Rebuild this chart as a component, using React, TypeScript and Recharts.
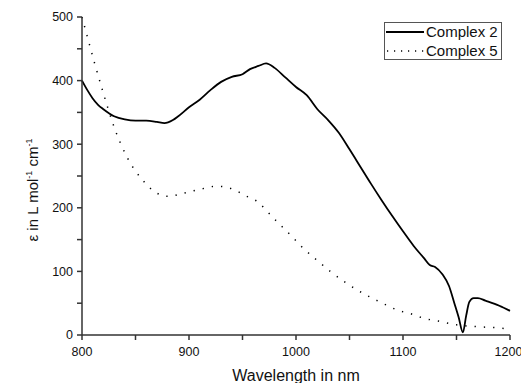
import { LineChart, Line, XAxis, YAxis } from "recharts";

// wavelength (nm) / extinction coefficient pairs
const wl2 = [800, 805, 810, 815, 820, 830, 840, 850, 860, 870, 877, 885, 890, 900, 910, 920, 930, 940, 950, 957, 965, 972, 980, 990, 1000, 1010, 1020, 1030, 1040, 1050, 1060, 1070, 1080, 1090, 1100, 1110, 1120, 1125, 1130, 1137, 1143, 1148, 1152, 1156, 1159, 1162, 1166, 1170, 1177, 1190, 1200];
const eps2 = [400, 385, 372, 362, 355, 344, 339, 337, 337, 335, 333, 338, 344, 358, 370, 385, 398, 406, 410, 418, 423, 427, 420, 405, 390, 377, 355, 338, 318, 292, 265, 238, 212, 187, 163, 140, 120, 110, 107, 95, 77, 50, 28, 4, 30, 52, 58, 58, 54, 46, 38];

const wl5 = [800, 805, 811, 820, 830, 842, 858, 870, 880, 895, 910, 926, 938, 954, 966, 971, 983, 995, 1007, 1020, 1032, 1045, 1057, 1070, 1082, 1095, 1108, 1120, 1133, 1150, 1170, 1190, 1200];
const eps5 = [500, 469, 432, 380, 327, 280, 241, 223, 218, 223, 229, 234, 231, 218, 207, 198, 177, 157, 136, 117, 100, 84, 71, 59, 49, 39, 33, 26, 22, 16, 13, 11, 9];

const xTicks = [800, 850, 900, 950, 1000, 1050, 1100, 1150, 1200];
const yTicks = [0, 50, 100, 150, 200, 250, 300, 350, 400, 450, 500];

const complex2 = wl2.map((w, i) => ({ wl: w, c2: eps2[i] }));
const complex5 = wl5.map((w, i) => ({ wl: w, c5: eps5[i] }));

const FONT = "Liberation Sans, Arial, sans-serif";
const AXIS = "#333";

const YLabel = () => (
  <text
    x={38}
    y={190}
    transform="rotate(-90 38 190)"
    textAnchor="middle"
    fontFamily={FONT}
    fontSize={15}
    fill="#111"
  >
    ε in L mol
    <tspan dy={-6} fontSize={9}>-1</tspan>
    <tspan dy={6}> cm</tspan>
    <tspan dy={-6} fontSize={9}>-1</tspan>
  </text>
);

// legend drawn as an overlay so it doesn't eat into the plot area
const LegendBox = () => (
  <svg width={119} height={39} style={{ position: "absolute", left: 384, top: 22 }}>
    <rect x={0.5} y={0.5} width={117} height={37} fill="#fff" stroke="#555" />
    <line x1={2} x2={40} y1={10} y2={10} stroke="#000" strokeWidth={1.8} />
    <text x={42} y={15} fontFamily={FONT} fontSize={15} fill="#111">Complex 2</text>
    <line x1={3} x2={40} y1={29} y2={29} stroke="#000" strokeWidth={1.5} strokeDasharray="1.2 5.8" />
    <text x={42} y={34} fontFamily={FONT} fontSize={15} fill="#111">Complex 5</text>
  </svg>
);

export default function App() {
  return (
    <div style={{ position: "absolute", left: 0, top: 0, width: 521, height: 383, background: "#fff" }}>
      <LineChart width={521} height={383} margin={{ top: 17, right: 11, bottom: 0, left: 0 }}>
        <XAxis
          dataKey="wl"
          type="number"
          domain={[800, 1200]}
          ticks={xTicks}
          allowDuplicatedCategory={false}
          tickFormatter={(v: number) => (v % 100 === 0 ? String(v) : "")}
          height={48}
          stroke={AXIS}
          strokeWidth={1.5}
          tickSize={5}
          tickMargin={7}
          tick={{ fontSize: 12.5, fill: "#111", fontFamily: FONT }}
          label={{ value: "Wavelength in nm", position: "insideBottom", offset: 2, fontSize: 16, fill: "#111", fontFamily: FONT }}
        />
        <YAxis
          type="number"
          domain={[0, 500]}
          ticks={yTicks}
          tickFormatter={(v: number) => (v % 100 === 0 ? String(v) : "")}
          width={82}
          stroke={AXIS}
          strokeWidth={1.5}
          tickSize={5}
          tickMargin={4}
          tick={{ fontSize: 12.5, fill: "#111", fontFamily: FONT }}
          label={<YLabel />}
        />
        <Line
          data={complex2}
          dataKey="c2"
          name="Complex 2"
          type="monotone"
          stroke="#000"
          strokeWidth={1.8}
          dot={false}
          isAnimationActive={false}
        />
        <Line
          data={complex5}
          dataKey="c5"
          name="Complex 5"
          type="monotone"
          stroke="#000"
          strokeWidth={1.5}
          strokeDasharray="1.3 8"
          dot={false}
          isAnimationActive={false}
        />
      </LineChart>
      <LegendBox />
    </div>
  );
}
